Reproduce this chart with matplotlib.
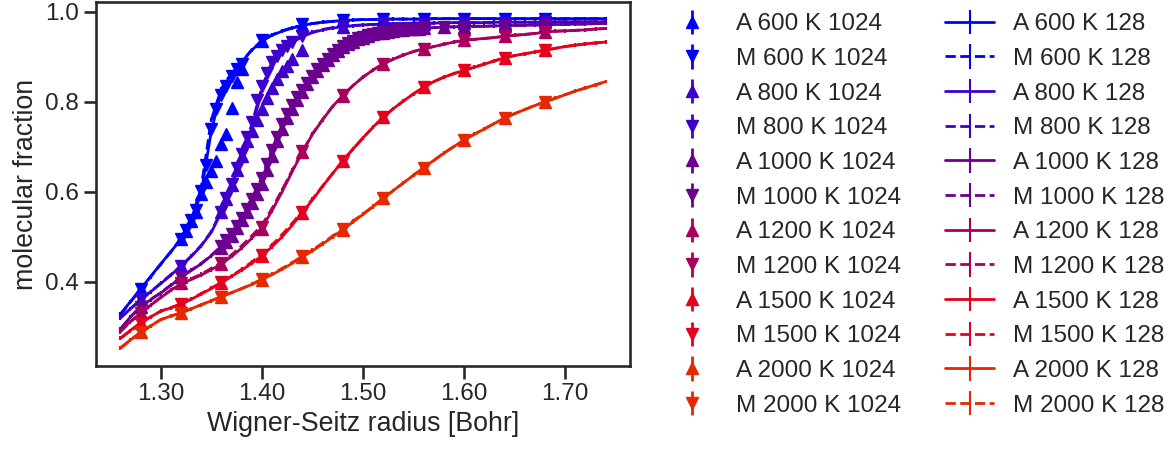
import numpy as np
import matplotlib
matplotlib.use("Agg")
import matplotlib.pyplot as plt
import seaborn as sns

sns.set_theme(context="talk", style="ticks")
plt.rcParams["font.family"] = ["Liberation Sans", "DejaVu Sans"]
plt.rcParams["xtick.labelsize"] = 17.5
plt.rcParams["ytick.labelsize"] = 17.5
plt.rcParams["axes.labelsize"] = 19.3
plt.rcParams["legend.fontsize"] = 17.5

temps = [600, 800, 1000, 1200, 1500, 2000]
colors = ["#0000ff", "#3f00cc", "#6b0090", "#a8005c", "#e6001e", "#e62800"]

# 128-atom runs: fine grid in rs
rs_128 = [1.26, 1.27, 1.28, 1.29, 1.30, 1.31, 1.32, 1.33, 1.34, 1.35,
          1.36, 1.37, 1.38, 1.39, 1.40, 1.41, 1.42, 1.43, 1.44, 1.45,
          1.46, 1.47, 1.48, 1.49, 1.50, 1.51, 1.52, 1.53, 1.54, 1.55,
          1.56, 1.57, 1.58, 1.59, 1.60, 1.61, 1.62, 1.63, 1.64, 1.65,
          1.66, 1.67, 1.68, 1.69, 1.70, 1.71, 1.72, 1.73, 1.74]

a128_600 = [0.328, 0.356, 0.384, 0.412, 0.440, 0.467, 0.495, 0.533, 0.598, 0.735,
            0.825, 0.862, 0.888, 0.915, 0.935, 0.948, 0.957, 0.964, 0.970, 0.974,
            0.977, 0.979, 0.981, 0.982, 0.983, 0.983, 0.984, 0.984, 0.984, 0.984,
            0.984, 0.985, 0.985, 0.985, 0.985, 0.985, 0.985, 0.985, 0.985, 0.985,
            0.985, 0.985, 0.985, 0.985, 0.985, 0.985, 0.985, 0.985, 0.985]
m128_600 = [0.326, 0.355, 0.383, 0.411, 0.439, 0.467, 0.496, 0.536, 0.610, 0.760,
            0.830, 0.864, 0.889, 0.916, 0.936, 0.949, 0.958, 0.965, 0.970, 0.974,
            0.977, 0.979, 0.981, 0.982, 0.983, 0.983, 0.984, 0.984, 0.984, 0.984,
            0.984, 0.985, 0.985, 0.985, 0.985, 0.985, 0.985, 0.985, 0.985, 0.985,
            0.985, 0.985, 0.985, 0.985, 0.985, 0.985, 0.985, 0.985, 0.985]

a128_800 = [0.320, 0.340, 0.360, 0.378, 0.396, 0.415, 0.435, 0.456, 0.480, 0.510,
            0.555, 0.612, 0.675, 0.740, 0.825, 0.885, 0.913, 0.932, 0.945, 0.954,
            0.960, 0.964, 0.967, 0.969, 0.971, 0.972, 0.973, 0.974, 0.974, 0.975,
            0.975, 0.975, 0.976, 0.976, 0.976, 0.976, 0.976, 0.977, 0.977, 0.977,
            0.977, 0.977, 0.977, 0.978, 0.978, 0.978, 0.978, 0.978, 0.978]
m128_800 = [0.319, 0.340, 0.360, 0.378, 0.397, 0.416, 0.436, 0.457, 0.481, 0.512,
            0.558, 0.616, 0.680, 0.750, 0.832, 0.889, 0.915, 0.933, 0.946, 0.955,
            0.961, 0.965, 0.968, 0.970, 0.971, 0.972, 0.973, 0.974, 0.974, 0.975,
            0.975, 0.975, 0.976, 0.976, 0.976, 0.976, 0.976, 0.977, 0.977, 0.977,
            0.977, 0.977, 0.977, 0.978, 0.978, 0.978, 0.978, 0.978, 0.978]

a128_1000 = [0.295, 0.322, 0.345, 0.360, 0.375, 0.392, 0.410, 0.425, 0.440, 0.458,
             0.478, 0.505, 0.540, 0.580, 0.625, 0.688, 0.748, 0.790, 0.825, 0.857,
             0.884, 0.905, 0.924, 0.935, 0.944, 0.950, 0.955, 0.958, 0.960, 0.962,
             0.964, 0.965, 0.966, 0.967, 0.967, 0.968, 0.968, 0.969, 0.969, 0.970,
             0.970, 0.971, 0.971, 0.972, 0.972, 0.973, 0.973, 0.974, 0.974]
m128_1000 = [0.294, 0.321, 0.345, 0.361, 0.376, 0.393, 0.411, 0.426, 0.441, 0.459,
             0.480, 0.508, 0.545, 0.586, 0.632, 0.695, 0.752, 0.793, 0.827, 0.858,
             0.885, 0.906, 0.925, 0.936, 0.945, 0.951, 0.955, 0.958, 0.960, 0.962,
             0.964, 0.965, 0.966, 0.967, 0.967, 0.968, 0.968, 0.969, 0.969, 0.970,
             0.970, 0.971, 0.971, 0.972, 0.972, 0.973, 0.973, 0.974, 0.974]

a128_1200 = [0.290, 0.312, 0.330, 0.348, 0.365, 0.381, 0.396, 0.405, 0.415, 0.427,
             0.440, 0.456, 0.475, 0.497, 0.520, 0.558, 0.600, 0.645, 0.688, 0.728,
             0.760, 0.790, 0.814, 0.836, 0.855, 0.871, 0.885, 0.895, 0.904, 0.912,
             0.918, 0.923, 0.928, 0.933, 0.937, 0.939, 0.941, 0.943, 0.946, 0.948,
             0.950, 0.952, 0.955, 0.957, 0.958, 0.959, 0.960, 0.962, 0.963]
m128_1200 = [0.289, 0.311, 0.330, 0.348, 0.366, 0.382, 0.397, 0.407, 0.417, 0.430,
             0.443, 0.460, 0.480, 0.502, 0.526, 0.563, 0.604, 0.648, 0.690, 0.729,
             0.761, 0.790, 0.814, 0.836, 0.855, 0.871, 0.885, 0.895, 0.904, 0.912,
             0.918, 0.923, 0.928, 0.933, 0.937, 0.939, 0.941, 0.943, 0.946, 0.948,
             0.950, 0.952, 0.955, 0.957, 0.958, 0.959, 0.960, 0.962, 0.963]

a128_1500 = [0.275, 0.292, 0.309, 0.322, 0.335, 0.342, 0.350, 0.361, 0.373, 0.385,
             0.398, 0.412, 0.426, 0.441, 0.458, 0.478, 0.500, 0.526, 0.554, 0.582,
             0.612, 0.641, 0.669, 0.695, 0.720, 0.744, 0.766, 0.785, 0.802, 0.818,
             0.833, 0.845, 0.855, 0.863, 0.870, 0.877, 0.884, 0.891, 0.898, 0.903,
             0.907, 0.911, 0.915, 0.919, 0.923, 0.926, 0.929, 0.931, 0.933]
m128_1500 = [0.274, 0.291, 0.309, 0.322, 0.335, 0.343, 0.351, 0.362, 0.374, 0.386,
             0.399, 0.413, 0.428, 0.444, 0.462, 0.482, 0.505, 0.530, 0.557, 0.584,
             0.613, 0.641, 0.669, 0.695, 0.720, 0.744, 0.766, 0.785, 0.802, 0.818,
             0.833, 0.845, 0.855, 0.863, 0.870, 0.877, 0.884, 0.891, 0.898, 0.903,
             0.907, 0.911, 0.915, 0.919, 0.923, 0.926, 0.929, 0.931, 0.933]

a128_2000 = [0.253, 0.271, 0.288, 0.302, 0.316, 0.324, 0.331, 0.340, 0.349, 0.358,
             0.367, 0.376, 0.385, 0.394, 0.405, 0.416, 0.428, 0.441, 0.455, 0.469,
             0.484, 0.500, 0.516, 0.533, 0.550, 0.567, 0.586, 0.603, 0.620, 0.637,
             0.654, 0.670, 0.686, 0.701, 0.715, 0.728, 0.740, 0.752, 0.764, 0.774,
             0.783, 0.792, 0.800, 0.808, 0.816, 0.824, 0.831, 0.838, 0.845]
m128_2000 = [0.252, 0.270, 0.288, 0.302, 0.316, 0.324, 0.331, 0.340, 0.349, 0.358,
             0.367, 0.376, 0.385, 0.395, 0.406, 0.417, 0.430, 0.443, 0.457, 0.471,
             0.486, 0.502, 0.518, 0.535, 0.551, 0.568, 0.586, 0.603, 0.620, 0.637,
             0.654, 0.670, 0.686, 0.701, 0.715, 0.728, 0.740, 0.752, 0.764, 0.774,
             0.783, 0.792, 0.800, 0.808, 0.816, 0.824, 0.831, 0.838, 0.845]

# 1024-atom runs: coarse grid plus extra points in the transition
rs_1024_600 = [1.28, 1.32, 1.325, 1.33, 1.335, 1.34, 1.345, 1.35, 1.355, 1.36,
               1.365, 1.37, 1.375, 1.38, 1.40, 1.44, 1.48, 1.52, 1.56, 1.60,
               1.64, 1.68]
a1024_600 = [0.385, 0.495, 0.513, 0.536, 0.556, 0.595, 0.621, 0.647, 0.669, 0.707,
             0.729, 0.787, 0.845, 0.872, 0.935, 0.970, 0.982, 0.984, 0.985, 0.985,
             0.985, 0.985]
m1024_600 = [0.385, 0.495, 0.515, 0.538, 0.560, 0.602, 0.660, 0.740, 0.785, 0.815,
             0.835, 0.858, 0.873, 0.885, 0.937, 0.972, 0.983, 0.984, 0.985, 0.985,
             0.985, 0.985]

rs_1024_800 = [1.28, 1.32, 1.36, 1.365, 1.37, 1.375, 1.38, 1.385, 1.39, 1.395,
               1.40, 1.405, 1.41, 1.415, 1.42, 1.425, 1.43, 1.44, 1.48, 1.52,
               1.56, 1.60, 1.64, 1.68]
a1024_800 = [0.361, 0.435, 0.556, 0.585, 0.615, 0.648, 0.680, 0.712, 0.735, 0.760,
             0.785, 0.808, 0.830, 0.850, 0.868, 0.880, 0.895, 0.915, 0.966, 0.972,
             0.974, 0.975, 0.976, 0.977]
m1024_800 = [0.361, 0.435, 0.556, 0.587, 0.618, 0.652, 0.685, 0.722, 0.755, 0.805,
             0.835, 0.865, 0.888, 0.903, 0.915, 0.925, 0.933, 0.946, 0.968, 0.972,
             0.974, 0.975, 0.976, 0.977]

rs_1024_1000 = [1.28, 1.32, 1.36, 1.365, 1.37, 1.375, 1.38, 1.385, 1.39, 1.395,
                1.40, 1.405, 1.41, 1.415, 1.42, 1.425, 1.43, 1.435, 1.44, 1.445,
                1.45, 1.455, 1.46, 1.465, 1.47, 1.475, 1.48, 1.485, 1.49, 1.495,
                1.50, 1.505, 1.51, 1.515, 1.52, 1.525, 1.53, 1.535, 1.54, 1.545,
                1.55, 1.555, 1.56, 1.58, 1.60, 1.64, 1.68]
a1024_1000 = [0.345, 0.410, 0.476, 0.489, 0.503, 0.519, 0.537, 0.556, 0.576, 0.596,
              0.618, 0.648, 0.680, 0.712, 0.740, 0.765, 0.785, 0.805, 0.822, 0.839,
              0.855, 0.869, 0.882, 0.893, 0.904, 0.914, 0.923, 0.929, 0.934, 0.939,
              0.943, 0.947, 0.950, 0.952, 0.954, 0.956, 0.957, 0.959, 0.960, 0.961,
              0.962, 0.963, 0.964, 0.966, 0.967, 0.969, 0.971]
m1024_1000 = [0.345, 0.410, 0.479, 0.492, 0.507, 0.524, 0.543, 0.563, 0.584, 0.606,
              0.630, 0.661, 0.692, 0.722, 0.750, 0.772, 0.792, 0.810, 0.827, 0.843,
              0.858, 0.872, 0.885, 0.896, 0.906, 0.916, 0.925, 0.931, 0.936, 0.941,
              0.945, 0.948, 0.951, 0.953, 0.955, 0.957, 0.958, 0.959, 0.960, 0.961,
              0.962, 0.963, 0.964, 0.966, 0.967, 0.969, 0.971]

rs_1024 = [1.28, 1.32, 1.36, 1.40, 1.44, 1.48, 1.52, 1.56, 1.60, 1.64, 1.68]
a1024_1200 = [0.330, 0.397, 0.440, 0.518, 0.688, 0.814, 0.885, 0.918, 0.937, 0.946, 0.955]
m1024_1200 = [0.330, 0.398, 0.442, 0.522, 0.690, 0.815, 0.885, 0.918, 0.937, 0.946, 0.955]
a1024_1500 = [0.309, 0.350, 0.398, 0.458, 0.554, 0.669, 0.766, 0.833, 0.870, 0.898, 0.915]
m1024_1500 = [0.309, 0.351, 0.399, 0.460, 0.556, 0.669, 0.766, 0.833, 0.870, 0.898, 0.915]
a1024_2000 = [0.288, 0.331, 0.367, 0.405, 0.455, 0.516, 0.586, 0.654, 0.715, 0.764, 0.800]
m1024_2000 = [0.288, 0.331, 0.367, 0.406, 0.457, 0.518, 0.586, 0.654, 0.715, 0.764, 0.800]

err_1024 = 0.004
err_128 = 0.004

x_1024 = [rs_1024_600, rs_1024_800, rs_1024_1000, rs_1024, rs_1024, rs_1024]
a_1024 = [a1024_600, a1024_800, a1024_1000, a1024_1200, a1024_1500, a1024_2000]
m_1024 = [m1024_600, m1024_800, m1024_1000, m1024_1200, m1024_1500, m1024_2000]
a_128 = [a128_600, a128_800, a128_1000, a128_1200, a128_1500, a128_2000]
m_128 = [m128_600, m128_800, m128_1000, m128_1200, m128_1500, m128_2000]

fig = plt.figure(figsize=(11.67, 4.51), dpi=100)
ax = fig.add_axes([96 / 1167, 85 / 451, 534 / 1167, 364 / 451])

for T, c, xs, a, m in zip(temps, colors, x_1024, a_1024, m_1024):
    ax.errorbar(xs, a, yerr=err_1024, fmt="^", color=c, ms=8, elinewidth=2,
                zorder=3, label=f"A {T} K 1024")
    ax.errorbar(xs, m, yerr=err_1024, fmt="v", color=c, ms=8, elinewidth=2,
                zorder=3, label=f"M {T} K 1024")

for T, c, a, m in zip(temps, colors, a_128, m_128):
    ax.errorbar(rs_128, a, yerr=err_128, fmt="-", color=c, lw=2,
                elinewidth=1.5, label=f"A {T} K 128")
    ax.errorbar(rs_128, m, yerr=err_128, fmt="--", color=c, lw=2,
                elinewidth=1.5, label=f"M {T} K 128")

ax.set_xlim(1.236, 1.764)
ax.set_ylim(0.213, 1.022)
ax.set_xticks([1.30, 1.40, 1.50, 1.60, 1.70])
ax.set_xticklabels(["1.30", "1.40", "1.50", "1.60", "1.70"])
ax.set_yticks([0.4, 0.6, 0.8, 1.0])
ax.set_yticklabels(["0.4", "0.6", "0.8", "1.0"])
ax.set_xlabel("Wigner-Seitz radius [Bohr]")
ax.set_ylabel("molecular fraction")

ax.legend(ncol=2, frameon=False, loc="upper left",
          bbox_to_anchor=(658 / 1167, 0.992), bbox_transform=fig.transFigure,
          borderaxespad=0, labelspacing=0.52, columnspacing=1.83)

fig.savefig("out.png", dpi=100)
